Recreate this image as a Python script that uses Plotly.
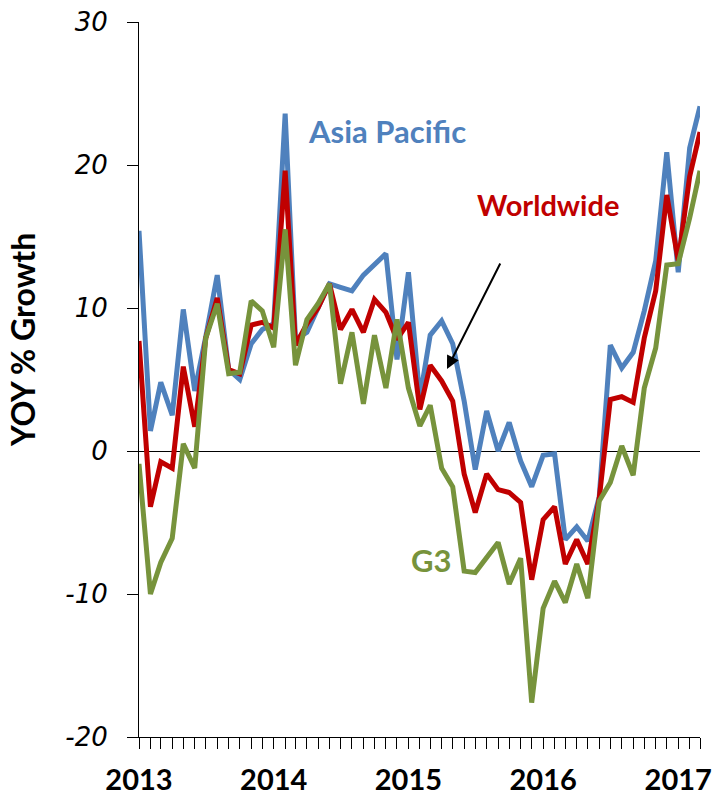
import pandas as pd
import plotly.graph_objects as go

# Monthly observations, Jan 2013 - Mar 2017
months = [d.strftime("%Y-%m-%d") for d in pd.date_range("2013-01-01", periods=51, freq="MS")]

asia_pacific = [
    15.4, 1.4, 4.8, 2.5, 9.9, 4.2, 8.0, 12.3, 5.7, 5.0, 7.5, 8.5,
    8.9, 23.6, 7.8, 8.3, 10.0, 11.7, 11.45, 11.2, 12.3, 13.0, 13.8, 6.4,
    12.5, 3.7, 8.1, 9.1, 7.5, 3.5, -1.3, 2.8, 0.0, 2.0, -0.7, -2.5,
    -0.3, -0.2, -6.2, -5.3, -6.3, -3.2, 7.4, 5.8, 6.9, 9.8, 13.3, 20.9,
    12.5, 21.2, 24.1,
]
worldwide = [
    7.7, -3.9, -0.75, -1.2, 5.9, 1.7, 7.9, 10.7, 5.7, 5.4, 8.8, 9.0,
    8.6, 19.6, 7.4, 8.9, 10.0, 11.7, 8.5, 9.9, 8.3, 10.6, 9.7, 7.8,
    9.0, 2.9, 6.0, 4.9, 3.5, -1.6, -4.3, -1.6, -2.7, -2.9, -3.6, -9.0,
    -4.8, -3.9, -7.9, -6.2, -7.9, -3.3, 3.6, 3.8, 3.4, 7.9, 11.2, 17.9,
    13.3, 19.2, 22.3,
]
g3 = [
    -0.9, -10.0, -7.8, -6.1, 0.5, -1.2, 7.9, 10.3, 5.4, 5.5, 10.5, 9.8,
    7.25, 15.5, 6.0, 9.2, 10.3, 11.7, 4.7, 8.3, 3.3, 8.1, 4.4, 9.2,
    4.4, 1.75, 3.2, -1.2, -2.5, -8.4, -8.5, -7.4, -6.4, -9.3, -7.5, -17.6,
    -11.0, -9.1, -10.6, -7.9, -10.3, -3.5, -2.2, 0.35, -1.7, 4.4, 7.2, 13.0,
    13.1, 16.3, 19.6,
]

y_ticks = [-20, -10, 0, 10, 20, 30]
y_tick_labels = ["-20", "-10", "0", "10", "20", "30"]

series = [
    ("Asia Pacific", asia_pacific, "#4F81BD"),
    ("Worldwide", worldwide, "#C00000"),
    ("G3", g3, "#77933C"),
]

fig = go.Figure()
for name, vals, color in series:
    fig.add_trace(go.Scatter(
        x=months, y=vals, name=name, mode="lines",
        line=dict(color=color, width=5),
    ))

label_font = "Lato, 'Open Sans', sans-serif"

W, H = 715, 799
L, R, T, B = 139, 15, 22, 62

fig.update_layout(
    width=W, height=H,
    margin=dict(l=L, r=R, t=T, b=B),
    paper_bgcolor="white", plot_bgcolor="white",
    showlegend=False,
    xaxis=dict(
        type="date", automargin=False,
        range=[months[0], months[-1]],
        tick0=months[0], dtick="M12", tickformat="%Y",
        ticks="outside", ticklen=11, tickcolor="black", tickwidth=1,
        minor=dict(dtick="M1", ticks="outside", ticklen=11, tickcolor="black", tickwidth=1, showgrid=False),
        showline=True, linecolor="black", linewidth=1,
        showgrid=False, zeroline=False,
        tickfont=dict(family=label_font, size=29, color="black", weight="bold"),
        ticklabelstandoff=6,
    ),
    yaxis=dict(
        automargin=False,
        range=[-20, 30], tickmode="array", tickvals=y_ticks, ticktext=y_tick_labels,
        ticks="outside", ticklen=11, tickcolor="black", tickwidth=1,
        showline=True, linecolor="black", linewidth=1,
        showgrid=False,
        zeroline=True, zerolinecolor="black", zerolinewidth=1,
        tickfont=dict(family="DejaVu Sans", size=26, color="black", style="italic"),
        ticklabelstandoff=14,
    ),
)

# Convert pixel positions to paper coordinates for labels
pw, ph = W - L - R, H - T - B


def px(x):
    return (x - L) / pw


def py(y):
    return (H - B - y) / ph


fig.add_annotation(
    x=px(22), y=py(340), xref="paper", yref="paper", text="<b>YOY % Growth</b>",
    showarrow=False, textangle=-90, xanchor="center", yanchor="middle",
    font=dict(family=label_font, size=32, color="black"),
)

# Series labels
for text, color, size, cx, cy in [
    ("Asia Pacific", "#4F81BD", 31, 387, 131),
    ("Worldwide", "#C00000", 29, 548, 205),
    ("G3", "#77933C", 31, 431, 560),
]:
    fig.add_annotation(
        x=px(cx), y=py(cy), xref="paper", yref="paper",
        text=f"<b>{text}</b>", showarrow=False,
        xanchor="center", yanchor="middle",
        font=dict(family=label_font, size=size, color=color),
    )

# Pointer from the Worldwide label to its line
fig.add_annotation(
    x=px(447), y=py(369), xref="paper", yref="paper",
    ax=501 - 447, ay=262 - 369, axref="pixel", ayref="pixel",
    text="", showarrow=True, arrowhead=2, arrowsize=1.3,
    arrowwidth=2, arrowcolor="black",
)

fig.write_html("out.html")
